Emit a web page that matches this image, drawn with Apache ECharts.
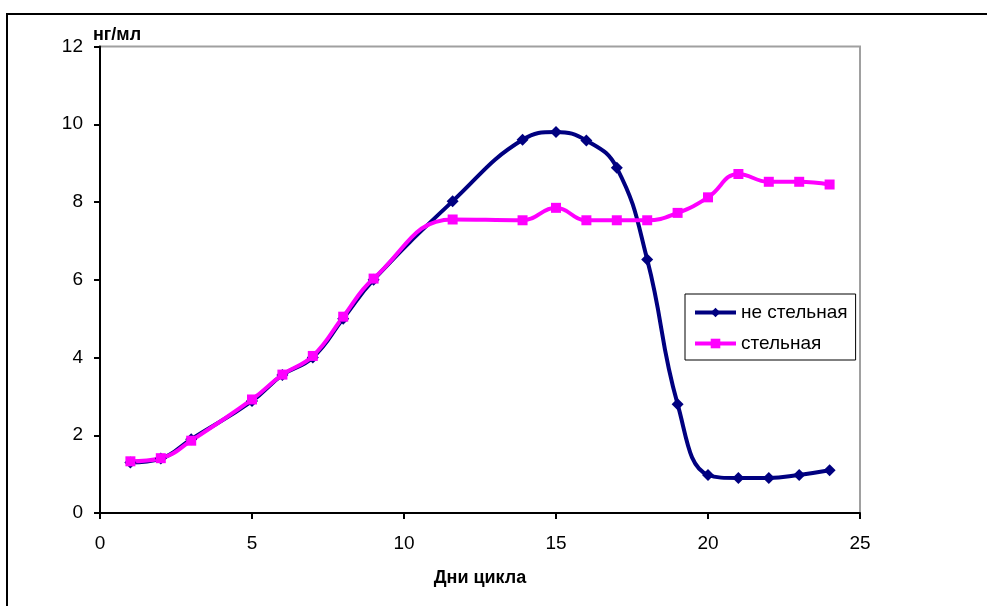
<!DOCTYPE html>
<html>
<head>
<meta charset="utf-8">
<script src="https://cdn.jsdelivr.net/npm/echarts@6/dist/echarts.min.js"></script>
<style>
html,body{margin:0;padding:0;background:#fff;}
#chart{width:987px;height:606px;}
</style>
</head>
<body>
<div id="chart"></div>
<script>
// Data
const days = [1, 2, 3, 5, 6, 7, 8, 9, 11.6, 13.9, 15, 16, 17, 18, 19, 20, 21, 22, 23, 24];
const notPregnant = [1.3, 1.4, 1.9, 2.88, 3.55, 4.0, 5.0, 6.0, 8.02, 9.6, 9.8, 9.58, 8.88, 6.52, 2.8, 0.98, 0.9, 0.9, 0.98, 1.1];
const pregnant = [1.33, 1.41, 1.86, 2.92, 3.56, 4.04, 5.05, 6.03, 7.55, 7.53, 7.85, 7.53, 7.53, 7.53, 7.72, 8.12, 8.72, 8.52, 8.52, 8.45];
const seriesNames = ['не стельная', 'стельная'];
const yTitle = 'нг/мл';
const xTitle = 'Дни цикла';

function pairs(xs, ys) { return xs.map((x, i) => [x, ys[i]]); }

const chart = echarts.init(document.getElementById('chart'), null, {renderer: 'canvas'});
const FONT = '"Liberation Sans", Arial, sans-serif';
chart.setOption({
  animation: false,
  backgroundColor: '#fff',
  textStyle: {fontFamily: FONT},
  title: {
    text: yTitle, left: 93, top: 26, padding: 0,
    textStyle: {fontFamily: FONT, fontSize: 18, fontWeight: 'bold', color: '#000'}
  },
  graphic: [{
    type: 'rect', z: 100, silent: true,
    shape: {x: 7, y: 14, width: 1000, height: 620},
    style: {fill: 'none', stroke: '#000', lineWidth: 2}
  }],
  grid: {
    left: 100, right: 127, top: 46.5, bottom: 93,
    show: true, borderColor: '#a0a0a0', borderWidth: 2, backgroundColor: 'transparent'
  },
  legend: {
    orient: 'vertical', left: 685, top: 294,
    padding: [9, 8, 7, 8], itemGap: 12, itemWidth: 41, itemHeight: 12,
    borderColor: '#000', borderWidth: 1, backgroundColor: '#fff',
    lineStyle: {width: 4},
    textStyle: {fontFamily: FONT, fontSize: 19, color: '#000'},
    data: seriesNames
  },
  xAxis: {
    type: 'value', min: 0, max: 25, interval: 5,
    name: xTitle, nameLocation: 'middle', nameGap: 56,
    nameTextStyle: {fontFamily: FONT, fontSize: 18, fontWeight: 'bold', color: '#000'},
    axisLine: {lineStyle: {color: '#000', width: 2}},
    axisTick: {show: true, length: 6, lineStyle: {color: '#000', width: 2}},
    axisLabel: {margin: 21, fontSize: 19, color: '#000', fontFamily: FONT},
    splitLine: {show: false}
  },
  yAxis: {
    type: 'value', min: 0, max: 12, interval: 2,
    axisLine: {show: true, lineStyle: {color: '#000', width: 2}},
    axisTick: {show: true, length: 6, lineStyle: {color: '#000', width: 2}},
    axisLabel: {margin: 17, fontSize: 19, color: '#000', fontFamily: FONT},
    splitLine: {show: false}
  },
  series: [
    {
      name: seriesNames[0], type: 'line', smooth: 0.45,
      data: pairs(days, notPregnant),
      symbol: 'diamond', symbolSize: 12,
      lineStyle: {color: '#000080', width: 4},
      itemStyle: {color: '#000080'}
    },
    {
      name: seriesNames[1], type: 'line', smooth: 0.45,
      data: pairs(days, pregnant),
      symbol: 'rect', symbolSize: 10,
      lineStyle: {color: '#FF00FF', width: 4},
      itemStyle: {color: '#FF00FF'}
    }
  ]
});
</script>
</body>
</html>
